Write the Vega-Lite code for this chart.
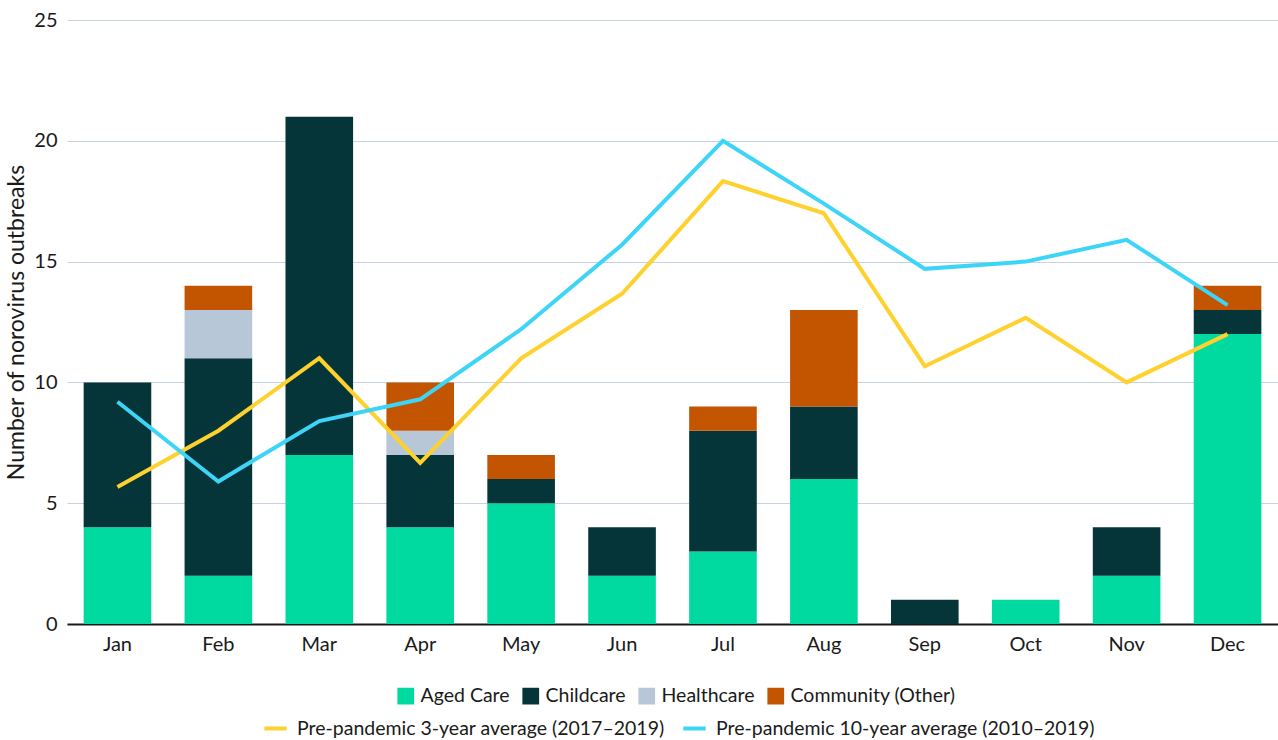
{
  "$schema": "https://vega.github.io/schema/vega-lite/v6.json",
  "width": 1211,
  "height": 604,
  "autosize": {"type": "none"},
  "padding": {"left": 67, "top": 20, "right": 0, "bottom": 116},
  "config": {
    "font": "Lato",
    "view": {"stroke": null},
    "axis": {"labelFont": "Lato", "titleFont": "Lato", "labelColor": "#1a1a1a", "titleColor": "#1a1a1a"},
    "legend": {"labelFont": "Lato", "labelFontSize": 19.5, "labelColor": "#1a1a1a", "labelLimit": 0}
  },
  "datasets": {
    "bars": [
      {"month": "Jan", "setting": "Aged Care", "n": 4},
      {"month": "Jan", "setting": "Childcare", "n": 6},
      {"month": "Feb", "setting": "Aged Care", "n": 2},
      {"month": "Feb", "setting": "Childcare", "n": 9},
      {"month": "Feb", "setting": "Healthcare", "n": 2},
      {"month": "Feb", "setting": "Community (Other)", "n": 1},
      {"month": "Mar", "setting": "Aged Care", "n": 7},
      {"month": "Mar", "setting": "Childcare", "n": 14},
      {"month": "Apr", "setting": "Aged Care", "n": 4},
      {"month": "Apr", "setting": "Childcare", "n": 3},
      {"month": "Apr", "setting": "Healthcare", "n": 1},
      {"month": "Apr", "setting": "Community (Other)", "n": 2},
      {"month": "May", "setting": "Aged Care", "n": 5},
      {"month": "May", "setting": "Childcare", "n": 1},
      {"month": "May", "setting": "Community (Other)", "n": 1},
      {"month": "Jun", "setting": "Aged Care", "n": 2},
      {"month": "Jun", "setting": "Childcare", "n": 2},
      {"month": "Jul", "setting": "Aged Care", "n": 3},
      {"month": "Jul", "setting": "Childcare", "n": 5},
      {"month": "Jul", "setting": "Community (Other)", "n": 1},
      {"month": "Aug", "setting": "Aged Care", "n": 6},
      {"month": "Aug", "setting": "Childcare", "n": 3},
      {"month": "Aug", "setting": "Community (Other)", "n": 4},
      {"month": "Sep", "setting": "Childcare", "n": 1},
      {"month": "Oct", "setting": "Aged Care", "n": 1},
      {"month": "Nov", "setting": "Aged Care", "n": 2},
      {"month": "Nov", "setting": "Childcare", "n": 2},
      {"month": "Dec", "setting": "Aged Care", "n": 12},
      {"month": "Dec", "setting": "Childcare", "n": 1},
      {"month": "Dec", "setting": "Community (Other)", "n": 1}
    ],
    "lines": [
      {"month": "Jan", "series": "Pre-pandemic 3-year average (2017–2019)", "v": 5.67},
      {"month": "Feb", "series": "Pre-pandemic 3-year average (2017–2019)", "v": 8},
      {"month": "Mar", "series": "Pre-pandemic 3-year average (2017–2019)", "v": 11},
      {"month": "Apr", "series": "Pre-pandemic 3-year average (2017–2019)", "v": 6.67},
      {"month": "May", "series": "Pre-pandemic 3-year average (2017–2019)", "v": 11},
      {"month": "Jun", "series": "Pre-pandemic 3-year average (2017–2019)", "v": 13.67},
      {"month": "Jul", "series": "Pre-pandemic 3-year average (2017–2019)", "v": 18.33},
      {"month": "Aug", "series": "Pre-pandemic 3-year average (2017–2019)", "v": 17},
      {"month": "Sep", "series": "Pre-pandemic 3-year average (2017–2019)", "v": 10.67},
      {"month": "Oct", "series": "Pre-pandemic 3-year average (2017–2019)", "v": 12.67},
      {"month": "Nov", "series": "Pre-pandemic 3-year average (2017–2019)", "v": 10},
      {"month": "Dec", "series": "Pre-pandemic 3-year average (2017–2019)", "v": 12},
      {"month": "Jan", "series": "Pre-pandemic 10-year average (2010–2019)", "v": 9.2},
      {"month": "Feb", "series": "Pre-pandemic 10-year average (2010–2019)", "v": 5.9},
      {"month": "Mar", "series": "Pre-pandemic 10-year average (2010–2019)", "v": 8.4},
      {"month": "Apr", "series": "Pre-pandemic 10-year average (2010–2019)", "v": 9.3},
      {"month": "May", "series": "Pre-pandemic 10-year average (2010–2019)", "v": 12.2},
      {"month": "Jun", "series": "Pre-pandemic 10-year average (2010–2019)", "v": 15.7},
      {"month": "Jul", "series": "Pre-pandemic 10-year average (2010–2019)", "v": 20},
      {"month": "Aug", "series": "Pre-pandemic 10-year average (2010–2019)", "v": 17.4},
      {"month": "Sep", "series": "Pre-pandemic 10-year average (2010–2019)", "v": 14.7},
      {"month": "Oct", "series": "Pre-pandemic 10-year average (2010–2019)", "v": 15},
      {"month": "Nov", "series": "Pre-pandemic 10-year average (2010–2019)", "v": 15.9},
      {"month": "Dec", "series": "Pre-pandemic 10-year average (2010–2019)", "v": 13.2}
    ]
  },
  "encoding": {
    "x": {
      "field": "month", "type": "nominal",
      "sort": ["Jan","Feb","Mar","Apr","May","Jun","Jul","Aug","Sep","Oct","Nov","Dec"],
      "scale": {"paddingInner": 0.33, "paddingOuter": 0.165},
      "axis": {"title": null, "labelAngle": 0, "labelFontSize": 20, "labelPadding": 10, "ticks": false, "domainColor": "#1a1a1a", "domainWidth": 2}
    }
  },
  "layer": [
    {
      "data": {"name": "bars"},
      "transform": [
        {"calculate": "indexof(['Aged Care','Childcare','Healthcare','Community (Other)'], datum.setting)", "as": "stackOrder"}
      ],
      "mark": {"type": "bar"},
      "encoding": {
        "y": {
          "field": "n", "type": "quantitative", "aggregate": "sum",
          "scale": {"domain": [0, 25], "nice": false, "zero": true},
          "axis": {"title": "Number of norovirus outbreaks", "titleFontSize": 23, "titleFontWeight": "normal", "titlePadding": 5, "labelFontSize": 20, "labelPadding": 10, "values": [0,5,10,15,20,25], "ticks": false, "domain": false, "gridColor": "#c5d3e3", "gridWidth": 1.2}
        },
        "order": {"field": "stackOrder", "type": "quantitative", "sort": "ascending"},
        "color": {
          "field": "setting", "type": "nominal",
          "scale": {"domain": ["Aged Care","Childcare","Healthcare","Community (Other)"], "range": ["#00d9a0","#053538","#b7c7d7","#c45500"]},
          "legend": {"title": null, "orient": "none", "legendX": 329, "legendY": 666, "direction": "horizontal", "columns": 4, "symbolType": "square", "symbolSize": 280, "symbolStrokeWidth": 0, "columnPadding": 11, "labelOffset": 5}
        }
      }
    },
    {
      "data": {"name": "lines"},
      "mark": {"type": "line", "strokeWidth": 4},
      "encoding": {
        "y": {"field": "v", "type": "quantitative", "scale": {"domain": [0, 25], "nice": false}},
        "stroke": {
          "field": "series", "type": "nominal",
          "scale": {"domain": ["Pre-pandemic 3-year average (2017–2019)","Pre-pandemic 10-year average (2010–2019)"], "range": ["#ffd12e","#3dd5f7"]},
          "legend": {"title": null, "orient": "none", "legendX": 195, "legendY": 695, "direction": "horizontal", "columns": 2, "symbolType": "stroke", "symbolStrokeWidth": 4, "symbolSize": 500, "columnPadding": 10, "labelOffset": 8}
        }
      }
    }
  ]
}
